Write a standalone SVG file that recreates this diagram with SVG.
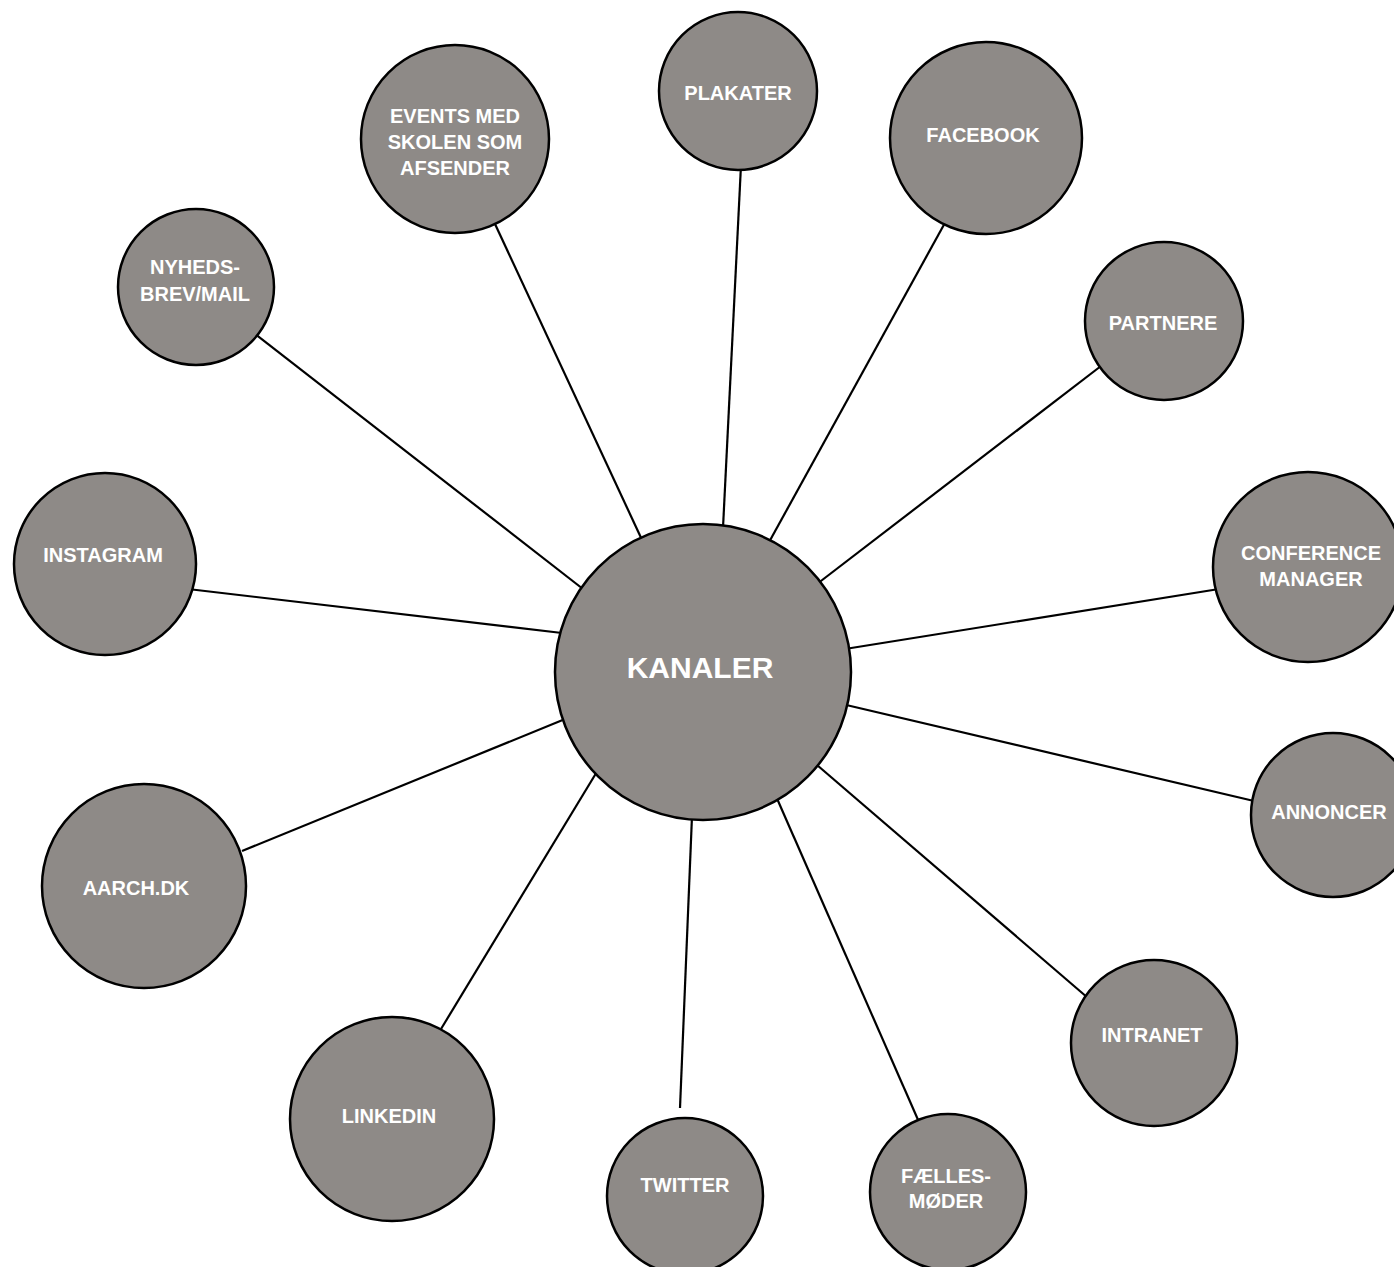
<svg xmlns="http://www.w3.org/2000/svg" width="1394" height="1267" viewBox="0 0 1394 1267">
<style>
.n{fill:#8e8a87;stroke:#000;stroke-width:2.5}
.t{fill:#fff;font-family:"Liberation Sans",Arial,sans-serif;font-weight:bold;font-size:20px;text-anchor:middle}
.big{font-size:30px}
.c line{stroke:#000;stroke-width:2.2}
</style>
<rect width="1394" height="1267" fill="#fff"/>
<g id="connectors" class="c">
<line x1="495" y1="224" x2="643" y2="542"/>
<line x1="741" y1="165" x2="723" y2="528"/>
<line x1="946" y1="221" x2="768" y2="544"/>
<line x1="254" y1="333" x2="583" y2="589"/>
<line x1="1101" y1="366" x2="817" y2="584"/>
<line x1="188" y1="589" x2="562" y2="633"/>
<line x1="1219" y1="589" x2="845" y2="649"/>
<line x1="1254" y1="801" x2="842" y2="704"/>
<line x1="242" y1="851" x2="570" y2="717"/>
<line x1="441" y1="1029" x2="598" y2="770"/>
<line x1="680" y1="1108" x2="692" y2="816"/>
<line x1="919" y1="1122" x2="775" y2="794"/>
<line x1="1088" y1="998" x2="817" y2="765"/>
</g>
<g id="kanaler"><circle class="n" cx="703" cy="672" r="148"/><text class="t big" x="700" y="678">KANALER</text></g>
<g id="events"><circle class="n" cx="455" cy="139" r="94"/><text class="t" x="455" y="123">EVENTS MED</text><text class="t" x="455" y="149">SKOLEN SOM</text><text class="t" x="455" y="175">AFSENDER</text></g>
<g id="plakater"><circle class="n" cx="738" cy="91" r="79"/><text class="t" x="738" y="100">PLAKATER</text></g>
<g id="facebook"><circle class="n" cx="986" cy="138" r="96"/><text class="t" x="983" y="142">FACEBOOK</text></g>
<g id="nyheds"><circle class="n" cx="196" cy="287" r="78"/><text class="t" x="195" y="274">NYHEDS-</text><text class="t" x="195" y="301">BREV/MAIL</text></g>
<g id="partnere"><circle class="n" cx="1164" cy="321" r="79"/><text class="t" x="1163" y="330">PARTNERE</text></g>
<g id="instagram"><circle class="n" cx="105" cy="564" r="91"/><text class="t" x="103" y="562">INSTAGRAM</text></g>
<g id="conference"><circle class="n" cx="1308" cy="567" r="95"/><text class="t" x="1311" y="560">CONFERENCE</text><text class="t" x="1311" y="586">MANAGER</text></g>
<g id="annoncer"><circle class="n" cx="1333" cy="815" r="82"/><text class="t" x="1329" y="819">ANNONCER</text></g>
<g id="aarch"><circle class="n" cx="144" cy="886" r="102"/><text class="t" x="136" y="895">AARCH.DK</text></g>
<g id="linkedin"><circle class="n" cx="392" cy="1119" r="102"/><text class="t" x="389" y="1123">LINKEDIN</text></g>
<g id="twitter"><circle class="n" cx="685" cy="1196" r="78"/><text class="t" x="685" y="1192">TWITTER</text></g>
<g id="faelles"><circle class="n" cx="948" cy="1192" r="78"/><text class="t" x="946" y="1183">FÆLLES-</text><text class="t" x="946" y="1208">MØDER</text></g>
<g id="intranet"><circle class="n" cx="1154" cy="1043" r="83"/><text class="t" x="1152" y="1042">INTRANET</text></g>
</svg>
